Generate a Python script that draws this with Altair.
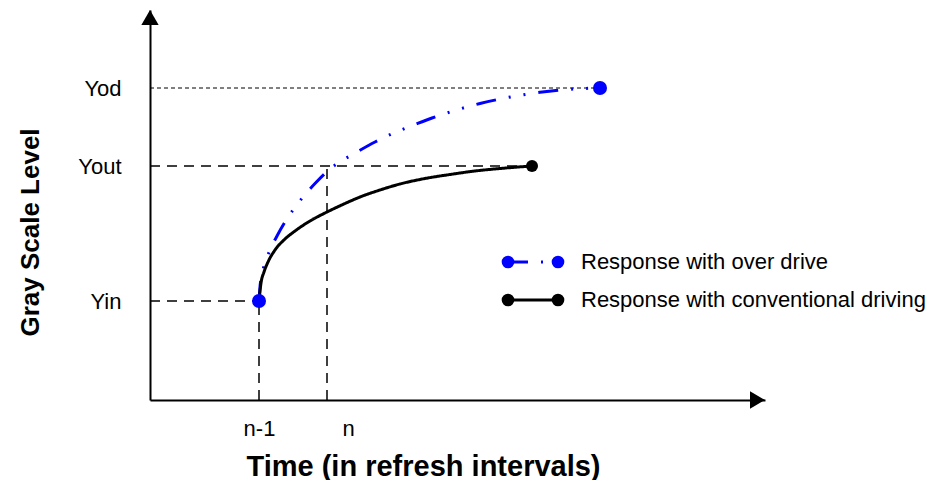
import altair as alt
import pandas as pd

# ---------------- data ----------------
level_names = ["Yin", "Yout", "Yod"]
level_values = [99, 234, 312]

time_names = ["n-1", "n"]
time_values = [109, 177]

# response with over drive (time, gray level)
od_t = [109, 110, 112, 115, 120, 127, 135, 143, 153, 165, 180, 193, 206, 225,
        245, 265, 282, 300, 315, 330, 350, 370, 390, 410, 430, 450]
od_y = [99, 113, 126, 137, 150, 164, 178, 190, 203, 216.5, 231, 240, 247.5, 258,
        267.5, 275.5, 282, 288, 292.5, 296.5, 301, 304.7, 307.7, 309.9, 311.3, 312]

# response with conventional driving
cv_t = [109, 111, 114, 118, 125, 135, 145, 160, 177, 195, 210, 230, 250, 275,
        300, 325, 350, 382]
cv_y = [99, 117, 128, 138, 150, 161, 169, 179, 188, 196.5, 203, 210, 216, 221.5,
        225.5, 229, 231.5, 234]

series_names = ["Response with over drive", "Response with conventional driving"]
series_colors = ["#0000ff", "#000000"]

x_title = "Time (in refresh intervals)"
y_title = "Gray Scale Level"

# ---------------- layout / style ----------------
X_MAX, Y_MAX = 615, 390
W, H = 615, 390
FONT = "Liberation Sans"
DASH_OD = [20, 13, 2, 13, 2, 13]
LEG_X0, LEG_X1, LEG_TX = 358, 408, 431
LEG_ROWS = [138, 100]


def label_expr(values, names):
    expr = f"'{names[-1]}'"
    for v, n in reversed(list(zip(values[:-1], names[:-1]))):
        expr = f"datum.value == {v} ? '{n}' : {expr}"
    return expr


xscale = alt.Scale(domain=[0, X_MAX], nice=False, zero=False)
yscale = alt.Scale(domain=[0, Y_MAX], nice=False, zero=False)

x_axis = alt.Axis(
    values=time_values, labelExpr=label_expr(time_values, time_names),
    ticks=False, grid=False, domainColor="black", domainWidth=2,
    labelFont=FONT, labelFontSize=22, labelColor="black", labelPadding=28,
    labelBaseline="middle", labelAlign="center", labelOverlap=False, labelFlush=False,
    labelOffset={"condition": {"test": f"datum.value == {time_values[1]}", "value": 21}, "value": 0},
    title=x_title, titleFont=FONT, titleFontSize=29, titleFontWeight="bold",
    titleColor="black", titleX=273, titleY=75, titleAlign="center", titleBaseline="alphabetic",
)
y_axis = alt.Axis(
    values=level_values, labelExpr=label_expr(level_values, level_names),
    ticks=False, grid=False, domainColor="black", domainWidth=2,
    labelFont=FONT, labelFontSize=22, labelColor="black", labelPadding=29,
    labelBaseline="middle", labelAlign="right", labelOverlap=False, labelFlush=False,
    title=y_title, titleFont=FONT, titleFontSize=26, titleFontWeight="bold",
    titleColor="black", titleX=-120, titleY=222, titleAngle=270,
    titleAlign="center", titleBaseline="middle",
)


def X(field):
    return alt.X(field, type="quantitative", scale=xscale, axis=x_axis)


def Y(field):
    return alt.Y(field, type="quantitative", scale=yscale, axis=y_axis)


color = alt.Color("series:N", scale=alt.Scale(domain=series_names, range=series_colors), legend=None)
dash = alt.StrokeDash("series:N", scale=alt.Scale(domain=series_names, range=[DASH_OD, [1, 0]]), legend=None)

# curves
curves = pd.concat([
    pd.DataFrame({"t": od_t, "y": od_y, "series": series_names[0], "i": range(len(od_t))}),
    pd.DataFrame({"t": cv_t, "y": cv_y, "series": series_names[1], "i": range(len(cv_t))}),
])
lines = alt.Chart(curves).mark_line(interpolate="monotone", strokeWidth=3).encode(
    x=X("t"), y=Y("y"), color=color, strokeDash=dash, order="i:Q", detail="series:N"
)

# endpoints
ends = pd.DataFrame({
    "t": [od_t[0], od_t[-1], cv_t[-1]],
    "y": [od_y[0], od_y[-1], cv_y[-1]],
    "series": [series_names[0], series_names[0], series_names[1]],
})
end_pts = alt.Chart(ends).mark_point(filled=True, opacity=1, shape="circle").encode(
    x=X("t"), y=Y("y"), color=color,
    size=alt.Size("series:N", scale=alt.Scale(domain=series_names, range=[196, 144]), legend=None),
)

# dashed reference lines
refs_h = pd.DataFrame({
    "x0": [0, 0, 0],
    "x1": [time_values[0], cv_t[-1], od_t[-1]],
    "y": level_values,
    "kind": ["thick", "thick", "thin"],
})
ref_h_thick = alt.Chart(refs_h[refs_h.kind == "thick"]).mark_rule(
    color="black", strokeWidth=1.5, strokeDash=[10, 7]
).encode(x=X("x0"), x2="x1", y=Y("y"))
ref_h_thin = alt.Chart(refs_h[refs_h.kind == "thin"]).mark_rule(
    color="black", strokeWidth=1, strokeDash=[4, 3]
).encode(x=X("x0"), x2="x1", y=Y("y"))

refs_v = pd.DataFrame({"x": time_values, "y0": [0, 0], "y1": [level_values[0], level_values[1]]})
ref_v = alt.Chart(refs_v).mark_rule(color="black", strokeWidth=1.5, strokeDash=[10, 7]).encode(
    x=X("x"), y=Y("y0"), y2="y1"
)

# axis arrowheads
arr_up = alt.Chart(pd.DataFrame({"x": [0], "y": [Y_MAX - 7.5]})).mark_point(
    shape="triangle-up", filled=True, size=300, color="black", opacity=1
).encode(x=X("x"), y=Y("y"))
arr_right = alt.Chart(pd.DataFrame({"x": [X_MAX - 7.5], "y": [0]})).mark_point(
    shape="triangle-right", filled=True, size=300, color="black", opacity=1
).encode(x=X("x"), y=Y("y"))

# legend
leg = pd.DataFrame({"series": series_names, "x0": LEG_X0, "x1": LEG_X1, "y": LEG_ROWS, "tx": LEG_TX})
leg_lines = alt.Chart(leg).mark_rule(strokeWidth=3).encode(
    x=X("x0"), x2="x1", y=Y("y"), color=color, strokeDash=dash
)
leg_dots = alt.Chart(pd.concat([
    leg.assign(px=leg.x0), leg.assign(px=leg.x1)
])).mark_point(filled=True, opacity=1, size=160, shape="circle").encode(
    x=X("px"), y=Y("y"), color=color
)
leg_text = alt.Chart(leg).mark_text(
    align="left", baseline="middle", font=FONT, fontSize=22, color="black"
).encode(x=X("tx"), y=Y("y"), text="series:N")

chart = alt.layer(
    ref_h_thin, ref_h_thick, ref_v, lines, end_pts,
    arr_up, arr_right, leg_lines, leg_dots, leg_text,
).properties(
    width=W, height=H,
    padding={"left": 142, "top": 2, "right": 169, "bottom": 80},
    autosize=alt.AutoSizeParams(type="none"),
    background="white",
).configure_view(stroke=None)

chart.save("out.html", embed_options={"renderer": "svg", "actions": False})
